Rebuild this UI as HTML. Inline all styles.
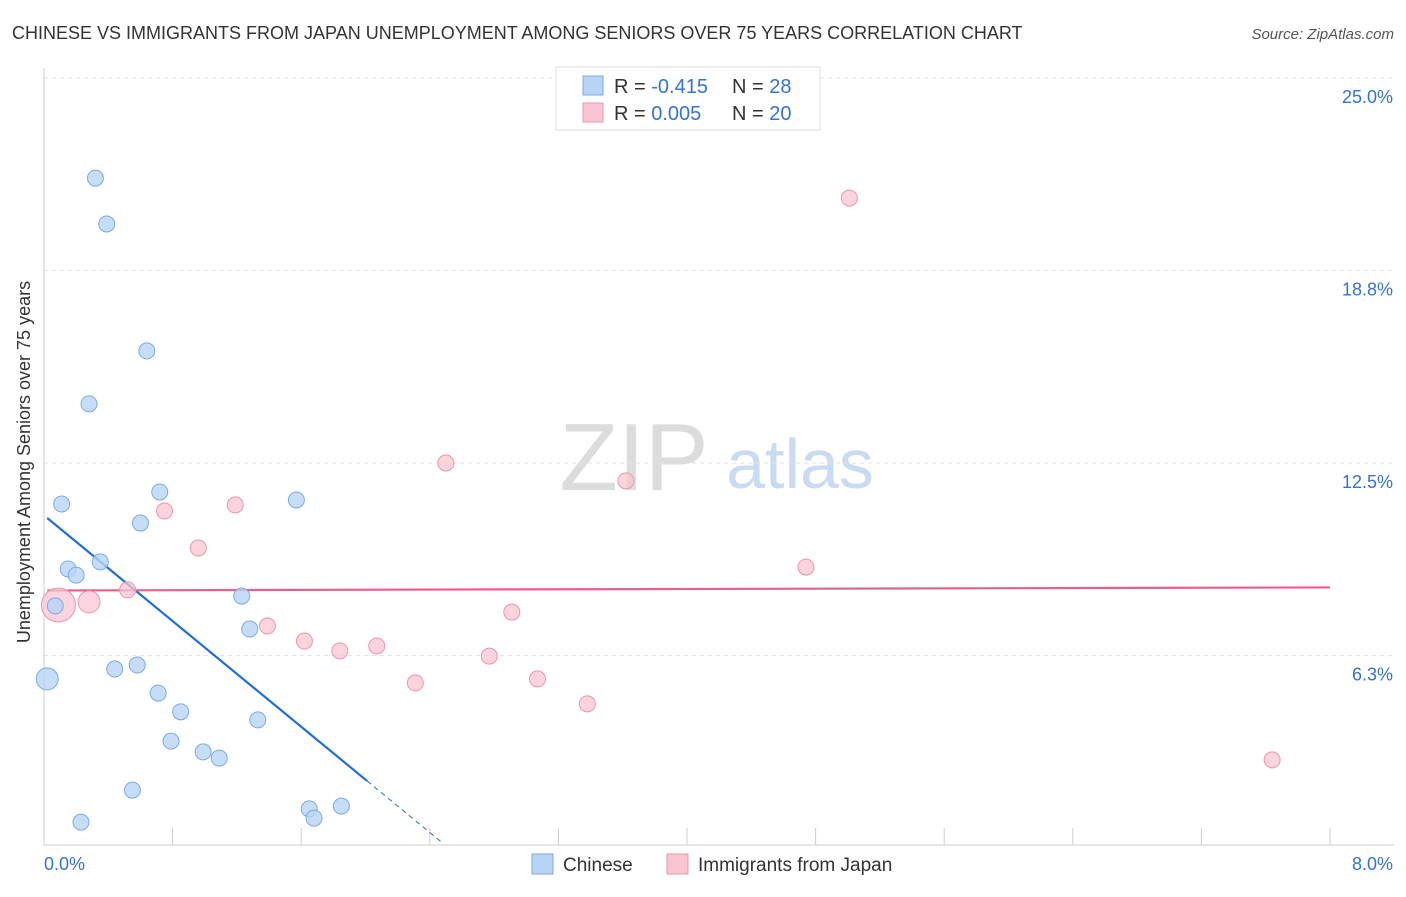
<!DOCTYPE html>
<html><head><meta charset="utf-8"><style>
body{margin:0;background:#fff;font-family:"Liberation Sans",sans-serif;}
svg text{font-family:"Liberation Sans",sans-serif;}
</style></head><body>
<svg id="chart" width="1406" height="892" viewBox="0 0 1406 892">
<text x="12" y="39" font-size="18" fill="#333">CHINESE VS IMMIGRANTS FROM JAPAN UNEMPLOYMENT AMONG SENIORS OVER 75 YEARS CORRELATION CHART</text>
<text x="1394" y="39" font-size="15" fill="#555" font-style="italic" text-anchor="end">Source: ZipAtlas.com</text>
<g>
<text x="634" y="490" font-size="96" fill="#dcdcdc" font-family="Liberation Serif,serif" text-anchor="middle">ZIP</text>
<text x="800" y="488" font-size="70" fill="#c9dbf2" text-anchor="middle">atlas</text>
</g>
<g id="grid"></g><g id="axes"></g><g id="trends"></g><g id="points"></g>
<text x="24" y="456" font-size="18" fill="#333" text-anchor="middle" transform="rotate(-90 30 456)">Unemployment Among Seniors over 75 years</text>
<g>
<rect x="556" y="67" width="264" height="63" fill="#fff" stroke="#ddd"/>
<rect x="583" y="76" width="20" height="19" fill="#b8d4f5" stroke="#7aaae6"/>
<rect x="583" y="103" width="20" height="19" fill="#f9c5d3" stroke="#ef93ad"/>
<text x="614" y="93" font-size="20" fill="#333">R = <tspan fill="#3572d6">-0.415</tspan><tspan x="732">N = </tspan><tspan fill="#3572d6">28</tspan></text>
<text x="614" y="120" font-size="20" fill="#333">R = <tspan fill="#3572d6"> 0.005</tspan><tspan x="732">N = </tspan><tspan fill="#3572d6">20</tspan></text>
</g>
<g>
<rect x="532" y="854" width="21" height="20" fill="#b8d4f5" stroke="#7aaae6"/>
<text x="563" y="871" font-size="19" fill="#333">Chinese</text>
<rect x="667" y="854" width="21" height="20" fill="#f9c5d3" stroke="#ef93ad"/>
<text x="698" y="871" font-size="19" fill="#333">Immigrants from Japan</text>
</g>
</svg>
<script>
const yTicks=[6.25,12.5,18.75,25];
const yTickLabels=["6.3%","12.5%","18.8%","25.0%"];
const xTickLabels=["0.0%","8.0%"];
const chineseX=[0.32,0.39,0.64,0.28,0.11,0.72,0.60,1.57,0.15,0.20,0.35,0.07,1.23,1.28,0.44,0.58,0.02,0.71,0.85,1.33,0.79,0.99,1.09,0.55,1.65,1.68,1.85,0.23];
const chineseY=[21.75,20.26,16.14,14.42,11.17,11.56,10.55,11.30,9.06,8.86,9.29,7.86,8.18,7.11,5.81,5.94,5.49,5.03,4.42,4.16,3.47,3.12,2.92,1.88,1.27,0.97,1.36,0.84];
const japanX=[5.01,2.50,3.62,0.75,1.19,0.96,0.52,0.28,0.09,4.74,2.91,1.39,1.62,1.84,2.07,2.77,3.07,2.31,3.38,7.64];
const japanY=[21.10,12.50,11.92,10.94,11.14,9.74,8.38,7.99,7.89,9.12,7.66,7.21,6.72,6.40,6.56,6.23,5.49,5.36,4.68,2.86];
const chineseTrend=[10.8,-4.29];
const japanTrend=[8.36,0.0125];
const NS="http://www.w3.org/2000/svg";
const X=v=>44+v*160.75, Y=v=>848-v*30.8;
function mk(p,t,a){const e=document.createElementNS(NS,t);for(const k in a)e.setAttribute(k,a[k]);p.appendChild(e);return e;}
const grid=document.getElementById('grid'),axes=document.getElementById('axes');
yTicks.forEach((t,i)=>{
const l=mk(grid,'line',{x1:44,x2:1394,y1:Y(t),y2:Y(t),stroke:'#e2e2e2','stroke-dasharray':'4,4'});


const tx=mk(axes,'text',{x:1393,y:Y(t)+25,'font-size':18,fill:'#3572d6','text-anchor':'end'});tx.textContent=yTickLabels[i];


});
mk(axes,'line',{x1:44,x2:44,y1:68,y2:845,stroke:'#ccc'});
mk(axes,'line',{x1:44,x2:1394,y1:845,y2:845,stroke:'#ccc'});
for(let i=1;i<=10;i++){const t=mk(axes,'line',{x1:X(i*0.8),x2:X(i*0.8),y1:828,y2:845,stroke:'#ccc'});

}
[[0,44,'start'],[8,1393,'end']].forEach((d,i)=>{const tx=mk(axes,'text',{x:d[1],y:870,'font-size':18,fill:'#3572d6','text-anchor':d[2]});tx.textContent=xTickLabels[i];

});
const tr=document.getElementById('trends');
const cf=x=>chineseTrend[0]+chineseTrend[1]*x;
let l1=mk(tr,'line',{x1:X(0.02),y1:Y(cf(0.02)),x2:X(2.01),y2:Y(cf(2.01)),stroke:'#1f6fd6','stroke-width':2.2});


let l2=mk(tr,'line',{x1:X(2.01),y1:Y(cf(2.01)),x2:X(2.47),y2:Y(cf(2.47)),stroke:'#1f6fd6','stroke-width':1,'stroke-dasharray':'5,4'});


const jf=x=>japanTrend[0]+japanTrend[1]*x;
let l3=mk(tr,'line',{x1:X(0.02),y1:Y(jf(0.02)),x2:X(8),y2:Y(jf(8)),stroke:'#e8608a','stroke-width':2.2});


const pts=document.getElementById('points');
japanX.forEach((x,i)=>{const r=i===8?17:(i===7?11:8);
const c=mk(pts,'circle',{cx:X(x),cy:Y(japanY[i]),r:r,fill:'#f9c5d3','fill-opacity':0.75,stroke:'#ef93ad','stroke-width':1});

});
chineseX.forEach((x,i)=>{const r=i===16?11:8;
const c=mk(pts,'circle',{cx:X(x),cy:Y(chineseY[i]),r:r,fill:'#b8d4f5','fill-opacity':0.8,stroke:'#7aaae6','stroke-width':1});

});
</script>
</body></html>
